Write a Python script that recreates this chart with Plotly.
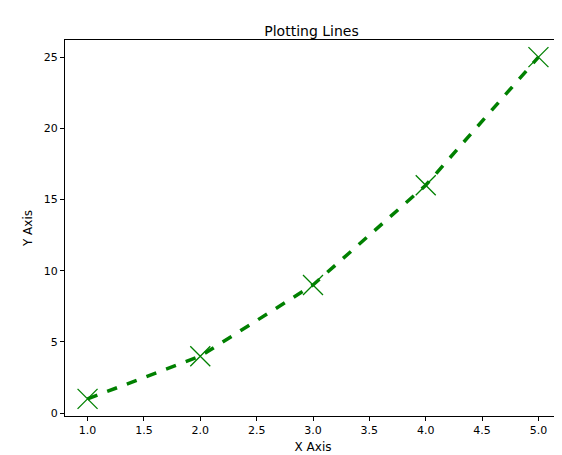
import plotly.graph_objects as go

x = [1, 2, 3, 4, 5]
y = [1, 4, 9, 16, 25]

fig = go.Figure()
fig.add_trace(go.Scatter(x=x, y=y, mode="lines+markers", name="My Line",
    line=dict(color="green", width=3.5, dash="dash"),
    marker=dict(symbol="x-thin", size=20, line=dict(color="green", width=1.3), color="green")))
ax = dict(showgrid=False, zeroline=False, showline=True, mirror=True, linecolor="black",
          ticks="outside", ticklen=4, tickcolor="black", tickfont=dict(size=11, color="black"))
fig.update_layout(
    width=562, height=455, plot_bgcolor="white", paper_bgcolor="white",
    margin=dict(l=57, r=9, t=32, b=47),
    font=dict(family="DejaVu Sans", color="black"),
    title=dict(text="Plotting Lines", x=0.54, xanchor="center", y=0.96, font=dict(size=14)),
    xaxis=dict(ax, range=[0.8, 5.2], dtick=0.5, tickformat=".1f",
               title=dict(text="X Axis", font=dict(size=12), standoff=6)),
    yaxis=dict(ax, range=[-0.2, 26.2], dtick=5,
               title=dict(text="Y Axis", font=dict(size=12), standoff=8)),
    legend=dict(x=0.015, y=0.98, bordercolor="#ccc", borderwidth=1, font=dict(size=11)),
)
fig.write_html("out.html")
